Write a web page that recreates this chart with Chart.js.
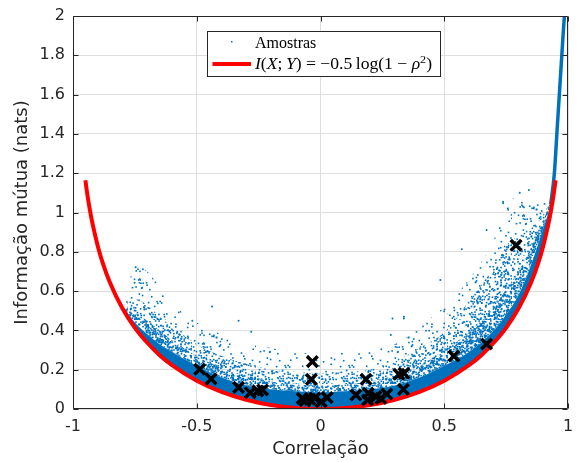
<!DOCTYPE html>
<html>
<head>
<meta charset="utf-8">
<script src="https://cdn.jsdelivr.net/npm/chart.js@4/dist/chart.umd.min.js"></script>
<style>
  html, body { margin: 0; padding: 0; background: #fff; }
</style>
</head>
<body>
<canvas id="chart" width="579" height="462"></canvas>
<script>
// Curva teórica I = -0.5 log(1 - rho^2)
const curveRho = [-0.95, -0.94, -0.93, -0.92, -0.9, -0.88, -0.85, -0.8, -0.75, -0.7, -0.65, -0.6, -0.5, -0.4, -0.3, -0.2, -0.1, 0,
                  0.1, 0.2, 0.3, 0.4, 0.5, 0.6, 0.65, 0.7, 0.75, 0.8, 0.85, 0.88, 0.9, 0.92, 0.93, 0.94, 0.95];
const curveMi = [1.164, 1.075, 1.001, 0.937, 0.830, 0.744, 0.641, 0.511, 0.413, 0.337, 0.274, 0.223, 0.144, 0.087, 0.047, 0.020, 0.005, 0,
                 0.005, 0.020, 0.047, 0.087, 0.144, 0.223, 0.274, 0.337, 0.413, 0.511, 0.641, 0.744, 0.830, 0.937, 1.001, 1.075, 1.164];

// Nuvem de amostras: bordas das faixas (sólida, forte, média, esparsa)
const cloudRho = [-0.79, -0.75, -0.7, -0.65, -0.6, -0.5, -0.4, -0.3, -0.2, -0.1, 0, 0.1, 0.2, 0.3, 0.4, 0.5, 0.6, 0.7, 0.75, 0.8, 0.85, 0.9, 0.93, 0.945];
const cloudLow = [0.50, 0.413, 0.337, 0.275, 0.223, 0.144, 0.087, 0.047, 0.020, 0.005, 0, 0.005, 0.020, 0.047, 0.087, 0.144, 0.223, 0.337, 0.413, 0.511, 0.643, 0.830, 1.00, 1.12];
const cloudDense = [0.505, 0.44, 0.38, 0.33, 0.29, 0.22, 0.16, 0.12, 0.10, 0.09, 0.085, 0.09, 0.10, 0.12, 0.16, 0.22, 0.29, 0.40, 0.48, 0.58, 0.73, 0.92, 1.04, 1.125];
const cloudHeavy = [0.515, 0.49, 0.45, 0.40, 0.35, 0.27, 0.21, 0.17, 0.14, 0.125, 0.12, 0.125, 0.14, 0.17, 0.22, 0.30, 0.39, 0.52, 0.61, 0.70, 0.82, 0.96, 1.06, 1.13];
const cloudMid = [0.53, 0.56, 0.53, 0.47, 0.42, 0.33, 0.27, 0.23, 0.20, 0.19, 0.18, 0.19, 0.20, 0.24, 0.31, 0.39, 0.55, 0.72, 0.83, 0.88, 0.92, 0.99, 1.07, 1.14];
const cloudSparse = [0.56, 0.72, 0.70, 0.62, 0.54, 0.44, 0.38, 0.34, 0.31, 0.29, 0.28, 0.29, 0.31, 0.33, 0.42, 0.52, 0.66, 0.86, 1.03, 1.08, 1.04, 1.06, 1.09, 1.15];

// Cauda das amostras perto de rho = 1
const tailRho = [0.93, 0.945, 0.955, 0.965, 0.975, 0.985, 0.99];
const tailMi = [1.04, 1.20, 1.40, 1.60, 1.80, 1.99, 2.05];

// Amostras isoladas
const strayRho = [-0.747, -0.718, -0.751, -0.438, -0.518, -0.331, -0.28, 0.291, 0.337, 0.284, 0.484, 0.337, 0.571, 0.671, 0.738, 0.818, 0.805, 0.842, 0.738];
const strayMi = [0.721, 0.711, 0.643, 0.521, 0.449, 0.449, 0.393, 0.461, 0.47, 0.377, 0.656, 0.461, 0.813, 0.911, 1.047, 1.03, 1.101, 1.115, 1.055];

// Marcadores X
const markRho = [-0.488, -0.442, -0.331, -0.284, -0.253, -0.234, -0.074, -0.063, -0.043, -0.033, -0.037, -0.023, 0.003, 0.027,
                 0.143, 0.184, 0.190, 0.193, 0.224, 0.244, 0.268, 0.317, 0.337, 0.335, 0.539, 0.671, 0.790];
const markMi = [0.202, 0.153, 0.110, 0.083, 0.092, 0.097, 0.054, 0.042, 0.049, 0.241, 0.151, 0.056, 0.037, 0.058,
                0.071, 0.151, 0.046, 0.080, 0.063, 0.054, 0.076, 0.177, 0.182, 0.100, 0.270, 0.331, 0.833];

const BLUE = '#0072BD';
const FONT = 'DejaVu Sans';
const INK = '#262626';

const pts = (xs, ys) => xs.map((v, i) => ({x: v, y: ys[i]}));

// textura pontilhada para as faixas (só estilo, posições fixas por hash)
const hash = k => { const s = Math.sin(k * 12.9898) * 43758.5453; return s - Math.floor(s); };
function dotPattern(n, size) {
    const c = document.createElement('canvas');
    c.width = 64;
    c.height = 64;
    const g = c.getContext('2d');
    g.fillStyle = BLUE;
    for (let i = 0; i < n; i++) {
        g.fillRect(hash(i + 1) * 64, hash(i + 5001) * 64, size, size);
    }
    return g.createPattern(c, 'repeat');
}

const heavyFill = dotPattern(1300, 1.6);
const midFill = dotPattern(520, 1.6);
const sparseFill = dotPattern(110, 1.6);

// Caixa, marcas de escala internas e legenda
const framePlugin = {
    id: 'frame',
    afterDraw(chart) {
        const {ctx, chartArea: a, scales: {x, y}} = chart;
        ctx.save();
        ctx.strokeStyle = INK;
        ctx.lineWidth = 1;
        const L = Math.round(a.left) + 0.5, R = Math.round(a.right) - 0.5;
        const T = Math.round(a.top) + 0.5, B = Math.round(a.bottom) - 0.5;
        ctx.beginPath();
        ctx.rect(L, T, R - L, B - T);
        x.ticks.forEach(t => {
            const px = Math.round(x.getPixelForValue(t.value)) + 0.5;
            ctx.moveTo(px, B); ctx.lineTo(px, B - 5);
            ctx.moveTo(px, T); ctx.lineTo(px, T + 5);
        });
        y.ticks.forEach(t => {
            const py = Math.round(y.getPixelForValue(t.value)) + 0.5;
            ctx.moveTo(L, py); ctx.lineTo(L + 5, py);
            ctx.moveTo(R, py); ctx.lineTo(R - 5, py);
        });
        ctx.stroke();

        // legenda
        ctx.fillStyle = '#fff';
        ctx.fillRect(207.5, 31.5, 233, 45);
        ctx.strokeRect(207.5, 31.5, 233, 45);
        ctx.fillStyle = BLUE;
        ctx.fillRect(231, 41, 1.5, 1.5);
        ctx.strokeStyle = '#ff0000';
        ctx.lineWidth = 4;
        ctx.beginPath();
        ctx.moveTo(212.5, 64);
        ctx.lineTo(251, 64);
        ctx.stroke();

        const serif = 'Liberation Serif, DejaVu Serif, serif';
        ctx.fillStyle = '#000';
        ctx.textBaseline = 'alphabetic';
        ctx.font = '16px ' + serif;
        ctx.fillText('Amostras', 255, 48);

        const parts = [
            ['I', 'italic'], ['(', ''], ['X', 'italic'], [';\u2009', ''], ['Y', 'italic'], [')', ''],
            [' = \u22120.5\u2009log(1 \u2212 ', ''], ['\u03C1', 'italic'], ['2', 'sup'], [')', '']
        ];
        const fontOf = s => s === 'sup' ? '11px ' + serif : (s ? s + ' 16px ' : '16px ') + serif;
        let w = 0;
        parts.forEach(([t, s]) => { ctx.font = fontOf(s); w += ctx.measureText(t).width; });
        const sx = 177 / w;
        ctx.translate(255, 0);
        ctx.scale(sx, 1);
        let cx = 0;
        parts.forEach(([t, s]) => {
            ctx.font = fontOf(s);
            ctx.fillText(t, cx, s === 'sup' ? 63 : 69);
            cx += ctx.measureText(t).width;
        });
        ctx.restore();
    }
};

const band = (ys, fill, bg) => ({
    data: pts(cloudRho, ys),
    borderWidth: 0,
    pointRadius: 0,
    fill: fill,
    backgroundColor: bg,
    cubicInterpolationMode: 'monotone',
});

new Chart(document.getElementById('chart'), {
    type: 'line',
    data: {
        datasets: [
            {
                data: pts(markRho, markMi),
                showLine: false,
                pointStyle: 'crossRot',
                pointRadius: 7.5,
                pointBorderWidth: 3.5,
                pointBorderColor: '#000',
            },
            {
                data: pts(curveRho, curveMi),
                borderColor: '#ff0000',
                borderWidth: 4,
                pointRadius: 0,
                cubicInterpolationMode: 'monotone',
            },
            {
                data: pts(strayRho, strayMi),
                showLine: false,
                pointRadius: 1,
                pointBorderWidth: 0,
                pointBackgroundColor: BLUE,
            },
            {
                data: pts(tailRho, tailMi),
                borderColor: BLUE,
                borderWidth: 3.5,
                pointRadius: 0,
                cubicInterpolationMode: 'monotone',
            },
            band(cloudSparse, '+1', sparseFill),
            band(cloudMid, '+1', midFill),
            band(cloudHeavy, '+1', heavyFill),
            band(cloudDense, '+1', BLUE),
            band(cloudLow, false, 'transparent'),
        ],
    },
    options: {
        responsive: false,
        animation: false,
        layout: { padding: { top: 16, right: 7, left: 0, bottom: 0 } },
        plugins: {
            legend: { display: false },
            tooltip: { enabled: false },
        },
        scales: {
            x: {
                type: 'linear',
                min: -1,
                max: 1,
                afterFit: s => { s.height = 53; s.paddingLeft = 0; s.paddingRight = 0; },
                border: { display: false },
                grid: { color: '#dedede', drawTicks: false },
                ticks: {
                    stepSize: 0.5,
                    padding: 8,
                    color: INK,
                    maxRotation: 0,
                    font: { family: FONT, size: 16 },
                    callback: v => String(Math.round(v * 10) / 10),
                },
                title: {
                    display: true,
                    text: 'Correlação',
                    color: INK,
                    font: { family: FONT, size: 18 },
                    padding: { top: 0, bottom: 2 },
                },
            },
            y: {
                min: 0,
                max: 2,
                afterFit: s => { s.width = 73; s.paddingTop = 0; s.paddingBottom = 0; },
                border: { display: false },
                grid: { color: '#dedede', drawTicks: false },
                ticks: {
                    stepSize: 0.2,
                    padding: 8,
                    color: INK,
                    font: { family: FONT, size: 16 },
                    callback: v => String(Math.round(v * 10) / 10),
                },
                title: {
                    display: true,
                    text: 'Informação mútua (nats)',
                    color: INK,
                    font: { family: FONT, size: 18 },
                    padding: { top: 12, bottom: 0 },
                },
            },
        },
    },
    plugins: [framePlugin],
});
</script>
</body>
</html>
